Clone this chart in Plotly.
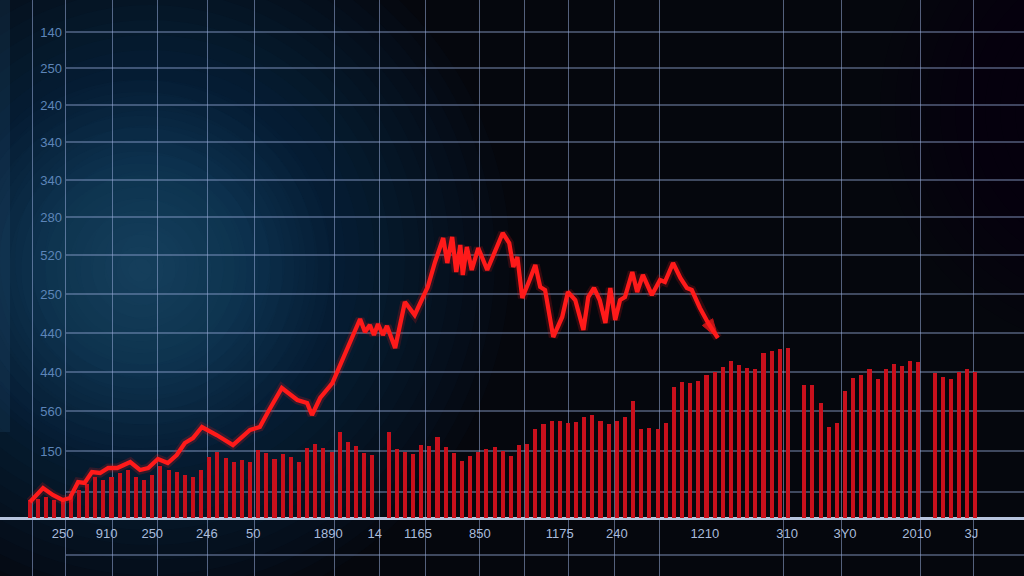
import plotly.graph_objects as go

# ---------------- data ----------------
BAR_VALUES = [18, 19, 21, 18, 20, 24, 28, 34, 41, 38,
              41, 45, 48, 41, 38, 43, 52, 48, 46, 43,
              41, 48, 61, 66, 60, 56, 58, 56, 68, 65,
              59, 64, 61, 56, 70, 74, 70, 66, 86, 76,
              72, 65, 63, None, 86, 69, 66, 64, 73, 72,
              81, 71, 65, 57, 62, 66, 69, 71, 67, 62,
              73, 74, 89, 94, 97, 97, 95, 96, 101, 103,
              97, 94, 97, 101, 117, 89, 90, 89, 95, 131,
              136, 135, 137, 143, 146, 151, 157, 153, 150, 149,
              165, 167, 169, 170, None, 133, 133, 115, 91, 95,
              127, 140, 143, 149, 139, 149, 154, 152, 157, 156,
              None, 145, 141, 139, 146, 149, 146]

LINE_X = [0.0, 1.6, 2.8, 4.0, 4.9, 5.9, 6.7, 7.6, 8.6, 9.6,
          10.7, 12.3, 13.5, 14.5, 15.7, 16.9, 18.0, 19.0, 20.0, 21.1,
          22.9, 24.9, 27.0, 28.2, 29.2, 30.9, 32.8, 34.0, 34.6, 35.6,
          37.1, 38.0, 39.3, 40.5, 41.1, 41.7, 42.2, 42.7, 43.3, 43.8,
          44.8, 46.0, 47.2, 48.8, 49.7, 50.7, 51.2, 51.8, 52.3, 52.8,
          53.1, 53.6, 54.2, 55.0, 56.1, 57.3, 58.0, 58.8, 59.3, 59.8,
          60.4, 61.3, 62.0, 62.6, 63.2, 64.2, 65.3, 66.0, 66.9, 67.9,
          68.5, 69.2, 69.9, 70.6, 71.2, 71.8, 72.4, 73.0, 73.9, 74.5,
          75.2, 76.3, 77.3, 77.9, 78.9, 79.8, 80.6, 81.2, 82.2, 83.2,
          84.4]
LINE_Y = [16, 30, 23, 18, 20, 36, 35, 46, 45, 50,
          50, 56, 48, 50, 59, 55, 63, 75, 80, 91,
          83, 73, 88, 91, 106, 130, 118, 115, 103, 120,
          135, 152, 176, 199, 186, 193, 183, 194, 183, 192,
          170, 216, 203, 231, 256, 280, 255, 281, 246, 273,
          243, 271, 248, 270, 248, 271, 285, 275, 251, 261,
          220, 238, 253, 231, 228, 181, 201, 226, 218, 188,
          221, 230, 218, 195, 230, 198, 218, 221, 246, 226,
          243, 223, 238, 236, 255, 240, 230, 228, 210, 195,
          180]

Y_TICK_VALUES = [67, 107, 146, 185, 224, 263, 301, 338, 376, 413, 450, 486]
Y_TICK_LABELS = ["150", "560", "440", "440", "250", "520", "280", "340",
                 "340", "240", "250", "140"]
Y_EXTRA_GRID = [-37, 26]

X_TICK_VALUES = [4.0, 9.4, 15.0, 21.7, 27.4, 36.6, 42.3, 47.6, 55.2, 65.0,
                 72.0, 82.8, 92.9, 100.0, 108.8, 115.5]
X_TICK_LABELS = ["250", "910", "250", "246", "50", "1890", "14", "1165", "850",
                 "1175", "240", "1210", "310", "3Y0", "2010", "3J"]
X_GRID = [0.3, 4.4, 10.1, 15.7, 21.8, 27.6, 37.4, 42.9, 48.5, 55.1, 60.7,
          66.1, 71.7, 77.2, 92.5, 99.6, 109.2, 115.8]

# ---------------- figure ----------------
W, H = 1024, 576
fig = go.Figure()

fig.add_trace(go.Bar(
    x=list(range(len(BAR_VALUES))), y=BAR_VALUES,
    width=0.5, marker=dict(color="rgb(200,16,28)", line=dict(width=0)),
    hoverinfo="skip", showlegend=False,
))

# soft glow under the line
fig.add_trace(go.Scatter(
    x=LINE_X, y=LINE_Y, mode="lines",
    line=dict(color="rgba(255,30,30,0.18)", width=9),
    hoverinfo="skip", showlegend=False,
))
arrow_sizes = [0] * (len(LINE_X) - 1) + [20]
fig.add_trace(go.Scatter(
    x=LINE_X, y=LINE_Y, mode="lines+markers",
    line=dict(color="#ff1a1a", width=4.3),
    marker=dict(symbol="arrow", angleref="previous", size=arrow_sizes,
                color="#ff1a1a", line=dict(width=1, color="#ff1a1a")),
    hoverinfo="skip", showlegend=False,
))

shapes = []

def glow(cx, cy, rmax, rgb, steps, alpha):
    for k in range(steps):
        r = rmax * (1 - k / steps)
        shapes.append(dict(
            type="circle", xref="paper", yref="paper", layer="below",
            x0=(cx - r) / W, x1=(cx + r) / W,
            y0=1 - (cy + r) / H, y1=1 - (cy - r) / H,
            fillcolor=f"rgba({rgb},{alpha})", line=dict(width=0),
        ))

glow(150, 260, 360, "30,70,115", 24, 0.045)
glow(140, 270, 190, "50,95,140", 16, 0.04)
glow(1120, 110, 240, "90,20,35", 16, 0.016)
# faint left bezel strip
shapes.append(dict(type="rect", xref="paper", yref="paper", layer="below",
                   x0=0, x1=10 / W, y0=0.25, y1=1,
                   fillcolor="rgba(40,80,120,0.22)", line=dict(width=0)))

for v in Y_TICK_VALUES + Y_EXTRA_GRID:
    shapes.append(dict(type="line", xref="paper", yref="y", layer="below",
                       x0=66 / W, x1=1, y0=v, y1=v,
                       line=dict(color="rgba(150,170,215,0.55)", width=1.3)))

fig.update_layout(
    width=W, height=H,
    margin=dict(l=0, r=0, t=0, b=0),
    paper_bgcolor="#05070d",
    plot_bgcolor="rgba(0,0,0,0)",
    bargap=0,
    shapes=shapes,
    xaxis=dict(
        range=[-3.68, 121.96], anchor="free", position=(H - 524) / H,
        tickmode="array", tickvals=X_TICK_VALUES, ticktext=X_TICK_LABELS,
        showgrid=False, zeroline=False, showline=False, ticks="",
        tickfont=dict(family="Liberation Sans", size=13, color="#a9bcdc"),
        minor=dict(tickmode="array", tickvals=X_GRID, showgrid=True,
                   gridcolor="rgba(150,170,215,0.55)", gridwidth=1.3, ticks=""),
        fixedrange=True,
    ),
    yaxis=dict(
        range=[-58, 518], anchor="free", position=62 / W,
        tickmode="array", tickvals=Y_TICK_VALUES, ticktext=Y_TICK_LABELS,
        showgrid=False, zeroline=True, zerolinecolor="#b7c4de", zerolinewidth=2.5,
        showline=False, ticks="",
        tickfont=dict(family="Liberation Sans", size=13, color="#5d85b8"),
        fixedrange=True,
    ),
)

fig.write_html("out.html", config={"displayModeBar": False},
               post_script="document.body.style.margin='0';document.body.style.overflow='hidden';")
